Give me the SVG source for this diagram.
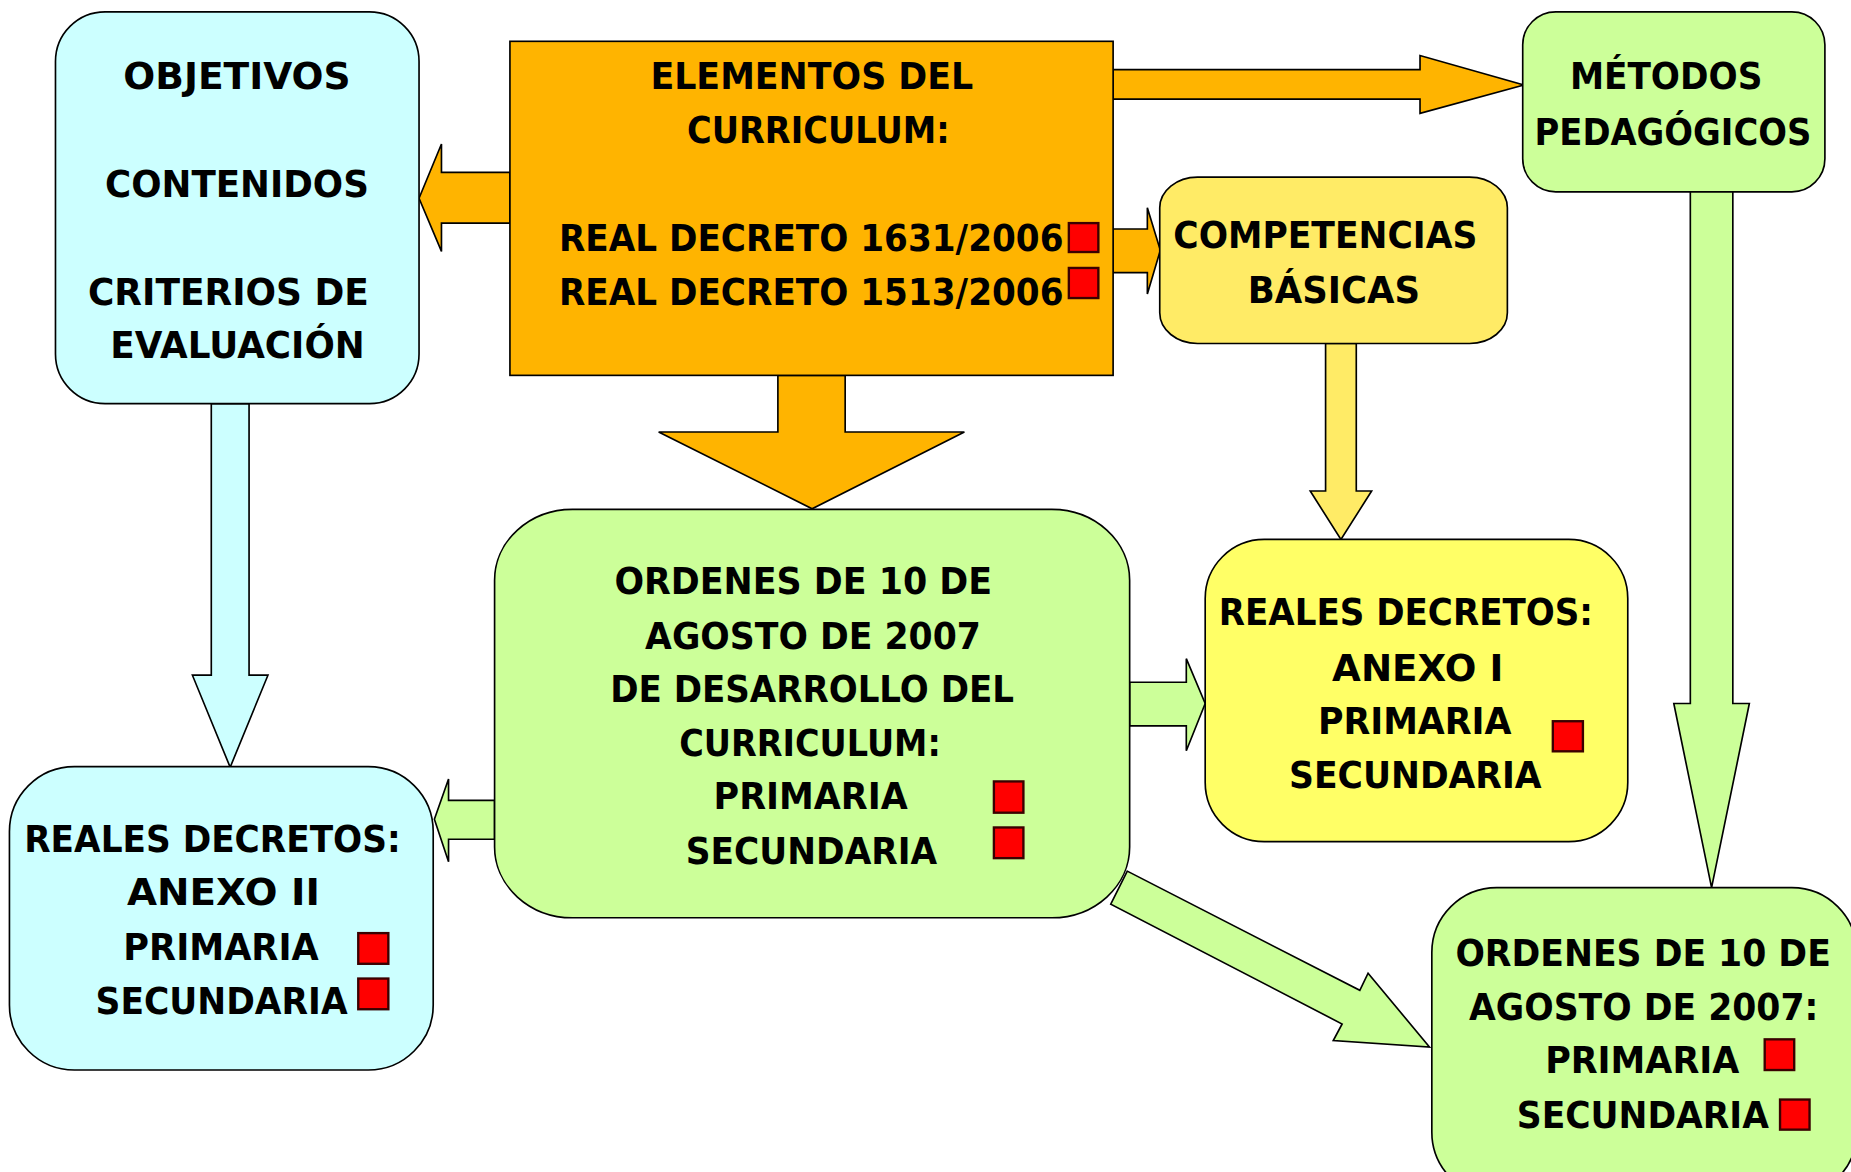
<svg xmlns="http://www.w3.org/2000/svg" width="1851" height="1172" viewBox="0 0 1851 1172">
<defs>
<style>
.ln{stroke:#000;stroke-width:1.4;stroke-linejoin:miter}
.cy{fill:#CCFFFF}
.or{fill:#FFB400}
.gr{fill:#CCFF99}
.ye{fill:#FFEB66}
.yb{fill:#FFFF66}
.sq{fill:#FF0000;stroke:#3a0000;stroke-width:2}
.t{font-family:"DejaVu Sans","Liberation Sans",sans-serif;font-weight:bold;font-size:31px;fill:#000}
</style>
</defs>
<rect x="0" y="0" width="1851" height="1172" fill="#FFFFFF"/>
<g transform="scale(1.1804)">
<g id="connectors">
<polygon class="ln or" points="432,146 374,146 374,122 355,168 374,213 374,189 432,189"/>
<polygon class="ln or" points="943,59 1203,59 1203,47 1291,72 1203,96 1203,84 943,84"/>
<polygon class="ln or" points="943,194 972,194 972,176 983,212 972,249 972,231 943,231"/>
<polygon class="ln or" points="659,318 659,366 558,366 688,431 817,366 716,366 716,318"/>
<polygon class="ln ye" points="1123,291 1123,416 1110,416 1136,457 1162,416 1149,416 1149,291"/>
<polygon class="ln gr" points="1432,162 1432,596 1418,596 1450,752 1482,596 1468,596 1468,162"/>
<polygon class="ln gr" points="957,578 1005,578 1005,558 1021,596 1005,636 1005,615 957,615"/>
<polygon class="ln gr" points="419,678 380,678 380,660 368,694 380,730 380,711 419,711"/>
<polygon class="ln cy" points="179,342 179,572 163,572 195,650 227,572 211,572 211,342"/>
<polygon class="ln gr" points="955,738 1152,839 1159,824.5 1211,887 1129.5,881.5 1137,867.5 941,766"/>
</g>
<g id="objetivos">
<rect class="ln cy" x="47" y="10" width="308" height="332" rx="42" ry="42"/>
<text class="t" x="104.5" y="75" textLength="192.5" lengthAdjust="spacingAndGlyphs">OBJETIVOS</text>
<text class="t" x="89" y="166.5" textLength="223.5" lengthAdjust="spacingAndGlyphs">CONTENIDOS</text>
<text class="t" x="74.5" y="258" textLength="238" lengthAdjust="spacingAndGlyphs">CRITERIOS DE</text>
<text class="t" x="93.5" y="303.5" textLength="215.5" lengthAdjust="spacingAndGlyphs">EVALUACIÓN</text>
</g>
<g id="elementos">
<rect class="ln or" x="432" y="35" width="511" height="283"/>
<text class="t" x="551" y="75.5" textLength="273.5" lengthAdjust="spacingAndGlyphs">ELEMENTOS DEL</text>
<text class="t" x="582" y="121.5" textLength="222.5" lengthAdjust="spacingAndGlyphs">CURRICULUM:</text>
<text class="t" x="473.5" y="213" textLength="427.5" lengthAdjust="spacingAndGlyphs">REAL DECRETO 1631/2006</text>
<text class="t" x="473.5" y="258" textLength="427.5" lengthAdjust="spacingAndGlyphs">REAL DECRETO 1513/2006</text>
<rect class="sq" x="905.5" y="189" width="25" height="24.5"/>
<rect class="sq" x="905.5" y="227" width="25" height="25.5"/>
</g>
<g id="metodos">
<rect class="ln gr" x="1290" y="10" width="256" height="152.5" rx="28" ry="28"/>
<text class="t" x="1330" y="75.5" textLength="163" lengthAdjust="spacingAndGlyphs">MÉTODOS</text>
<text class="t" x="1300" y="122.5" textLength="234.5" lengthAdjust="spacingAndGlyphs">PEDAGÓGICOS</text>
</g>
<g id="competencias">
<rect class="ln ye" x="982.5" y="150" width="294.5" height="141" rx="32" ry="26"/>
<text class="t" x="994" y="210.3" textLength="257.5" lengthAdjust="spacingAndGlyphs">COMPETENCIAS</text>
<text class="t" x="1057" y="257" textLength="146" lengthAdjust="spacingAndGlyphs">BÁSICAS</text>
</g>
<g id="ordenes-centro">
<rect class="ln gr" x="419" y="431.5" width="538" height="346" rx="66" ry="60"/>
<text class="t" x="520.5" y="503.4" textLength="320" lengthAdjust="spacingAndGlyphs">ORDENES DE 10 DE</text>
<text class="t" x="546.5" y="549.5" textLength="284.5" lengthAdjust="spacingAndGlyphs">AGOSTO DE 2007</text>
<text class="t" x="517" y="595" textLength="342" lengthAdjust="spacingAndGlyphs">DE DESARROLLO DEL</text>
<text class="t" x="575.5" y="640.7" textLength="221.5" lengthAdjust="spacingAndGlyphs">CURRICULUM:</text>
<text class="t" x="604.5" y="685.7" textLength="164.5" lengthAdjust="spacingAndGlyphs">PRIMARIA</text>
<text class="t" x="581" y="732" textLength="213" lengthAdjust="spacingAndGlyphs">SECUNDARIA</text>
<rect class="sq" x="842" y="662" width="25" height="26.5"/>
<rect class="sq" x="842" y="701" width="25" height="26"/>
</g>
<g id="reales-anexo-i">
<rect class="ln yb" x="1021" y="457" width="358" height="256" rx="50" ry="50"/>
<text class="t" x="1032.5" y="529.3" textLength="317" lengthAdjust="spacingAndGlyphs">REALES DECRETOS:</text>
<text class="t" x="1128.5" y="577" textLength="145" lengthAdjust="spacingAndGlyphs">ANEXO I</text>
<text class="t" x="1116.5" y="622" textLength="164" lengthAdjust="spacingAndGlyphs">PRIMARIA</text>
<text class="t" x="1092" y="668" textLength="214" lengthAdjust="spacingAndGlyphs">SECUNDARIA</text>
<rect class="sq" x="1315.5" y="611" width="25.5" height="25.5"/>
</g>
<g id="reales-anexo-ii">
<rect class="ln cy" x="8" y="649.5" width="359" height="257" rx="55" ry="55"/>
<text class="t" x="20.5" y="722" textLength="319" lengthAdjust="spacingAndGlyphs">REALES DECRETOS:</text>
<text class="t" x="107.5" y="767" textLength="163.5" lengthAdjust="spacingAndGlyphs">ANEXO II</text>
<text class="t" x="104.5" y="813" textLength="165.5" lengthAdjust="spacingAndGlyphs">PRIMARIA</text>
<text class="t" x="81" y="859" textLength="213.5" lengthAdjust="spacingAndGlyphs">SECUNDARIA</text>
<rect class="sq" x="303.5" y="790.5" width="25.5" height="26"/>
<rect class="sq" x="303.5" y="829" width="25.5" height="26"/>
</g>
<g id="ordenes-derecha">
<rect class="ln gr" x="1213" y="752" width="360" height="262" rx="55" ry="55"/>
<text class="t" x="1233" y="818" textLength="318" lengthAdjust="spacingAndGlyphs">ORDENES DE 10 DE</text>
<text class="t" x="1244.5" y="864" textLength="296" lengthAdjust="spacingAndGlyphs">AGOSTO DE 2007:</text>
<text class="t" x="1309" y="909" textLength="164.5" lengthAdjust="spacingAndGlyphs">PRIMARIA</text>
<text class="t" x="1285" y="955.5" textLength="213.5" lengthAdjust="spacingAndGlyphs">SECUNDARIA</text>
<rect class="sq" x="1495" y="880.5" width="25" height="26"/>
<rect class="sq" x="1508" y="931.5" width="25" height="25.5"/>
</g>
</g>
</svg>
